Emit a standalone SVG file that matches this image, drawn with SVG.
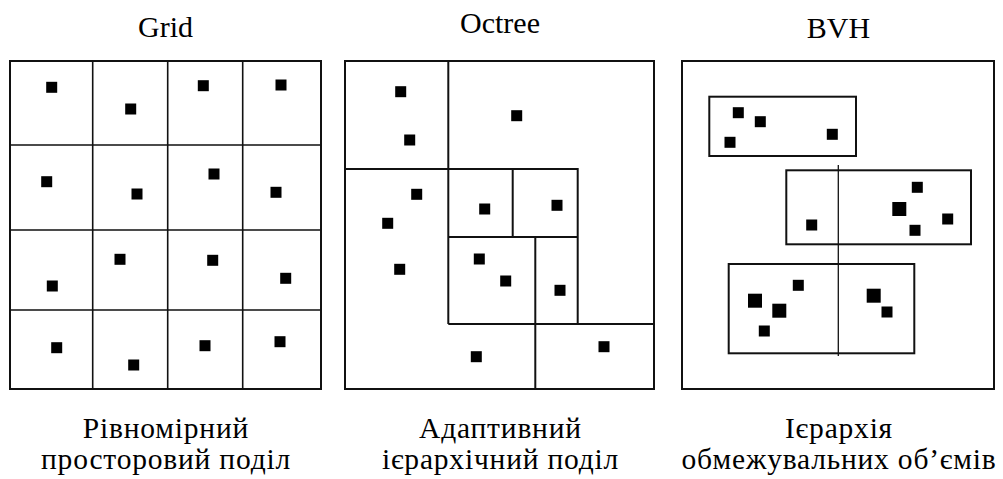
<svg xmlns="http://www.w3.org/2000/svg" width="1003" height="479" viewBox="0 0 1003 479">
<style>
.bg{fill:#ffffff}
.frame{fill:none;stroke:#111;stroke-width:2}
.ln{fill:none;stroke:#111;stroke-width:1.6}
.thin{fill:none;stroke:#111;stroke-width:1.3}
.pt{fill:#000}
text{font-family:'Liberation Serif','Times New Roman',Tinos,'Noto Serif','DejaVu Serif',serif;fill:#000;text-anchor:middle}
.ttl{font-size:30px}
.cap{font-size:29.5px;letter-spacing:0.8px}
</style>
<defs>
<rect id="s" x="-5.5" y="-5.5" width="11" height="11"/>
<rect id="b" x="-7" y="-7" width="14" height="14"/>
</defs>
<rect class="bg" x="0" y="0" width="1003" height="479"/>

<g id="grid">
<text class="ttl" x="165.5" y="37">Grid</text>
<rect class="frame" x="10" y="61" width="311" height="328"/>
<path class="ln" d="M92.7 61V389M167.7 61V389M242.7 61V389M10 145H321M10 230H321M10 310H321"/>
<g class="pt">
<use href="#s" x="51.7" y="87.3"/><use href="#s" x="130.7" y="109"/><use href="#s" x="203.3" y="85.7"/><use href="#s" x="281" y="85"/>
<use href="#s" x="46.7" y="181.7"/><use href="#s" x="137" y="194"/><use href="#s" x="214" y="174"/><use href="#s" x="276" y="192.3"/>
<use href="#s" x="52.3" y="286"/><use href="#s" x="120" y="259.3"/><use href="#s" x="212.7" y="260.3"/><use href="#s" x="285.7" y="278.3"/>
<use href="#s" x="56.7" y="347.7"/><use href="#s" x="133.7" y="365"/><use href="#s" x="205" y="345.7"/><use href="#s" x="280" y="341.7"/>
</g>
<text class="cap" x="166" y="438">Рівномірний</text>
<text class="cap" x="166" y="469">просторовий поділ</text>
</g>

<g id="octree">
<text class="ttl" x="500" y="33">Octree</text>
<rect class="frame" x="345" y="61" width="309" height="328"/>
<path class="frame" d="M448.3 61V324M345 169H577.7V324M448.3 324H654M512.7 169V237M448.3 237H577.7M535.3 237V389"/>
<g class="pt">
<use href="#s" x="400.7" y="91.7"/><use href="#s" x="409.7" y="140"/><use href="#s" x="516.7" y="115.7"/>
<use href="#s" x="416.7" y="194.3"/><use href="#s" x="387.7" y="223.3"/><use href="#s" x="399.7" y="269.3"/>
<use href="#s" x="484.7" y="209"/><use href="#s" x="557" y="205.3"/>
<use href="#s" x="479.3" y="259"/><use href="#s" x="505.7" y="281"/><use href="#s" x="560" y="290.3"/>
<use href="#s" x="476.3" y="356.7"/><use href="#s" x="604" y="346.7"/>
</g>
<text class="cap" x="500.5" y="438">Адаптивний</text>
<text class="cap" x="500.5" y="469">ієрархічний поділ</text>
</g>

<g id="bvh">
<text class="ttl" x="838.5" y="38">BVH</text>
<rect class="frame" x="682" y="61" width="312" height="328"/>
<rect class="frame" x="709.3" y="96.7" width="146.7" height="59.3"/>
<rect class="frame" x="786.3" y="170.3" width="184.7" height="74"/>
<rect class="frame" x="728.7" y="264" width="185.6" height="89.3"/>
<path class="thin" d="M838.3 165V356"/>
<g class="pt">
<use href="#s" x="738.3" y="112.7"/><use href="#s" x="760.3" y="121.7"/><use href="#s" x="730" y="142.3"/><use href="#s" x="832.3" y="134.3"/>
<use href="#s" x="917.3" y="187.3"/><use href="#b" x="899.3" y="209"/><use href="#s" x="915" y="230.3"/><use href="#s" x="947.7" y="219"/><use href="#s" x="811.7" y="225"/>
<use href="#s" x="798.3" y="285.3"/><use href="#b" x="755" y="300.7"/><use href="#b" x="779.3" y="310.7"/><use href="#s" x="764.3" y="331"/><use href="#b" x="873.7" y="295.7"/><use href="#s" x="887" y="312"/>
</g>
<text class="cap" x="839" y="438">Ієрархія</text>
<text class="cap" x="839" y="469">обмежувальних об’ємів</text>
</g>
</svg>
